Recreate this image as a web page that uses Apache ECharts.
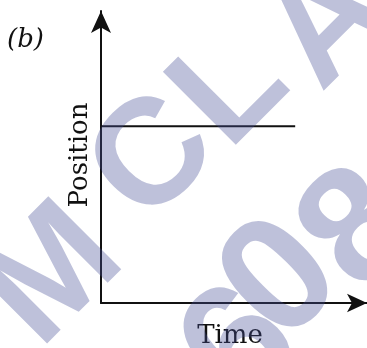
<!DOCTYPE html>
<html>
<head>
<meta charset="utf-8">
<script src="https://cdn.jsdelivr.net/npm/echarts@6/dist/echarts.min.js"></script>
<style>
  html, body { margin: 0; padding: 0; background: #fff; }
  #chart { width: 367px; height: 348px; }
</style>
</head>
<body>
<div id="chart"></div>
<script>
// position stays constant over time
var times = [0, 7.3];
var positions = [6.05, 6.05];
var axisMax = [10, 10];
var panelLabel = '(b)';
var watermark = [
  ['M', 55, 277, 150], ['C', 155, 160, 150], ['L', 232, 90, 150], ['A', 330, 26, 150],
  ['6', 243, 350, 165], ['0', 283, 282, 165], ['8', 362, 232, 165]
];

var chart = echarts.init(document.getElementById('chart'), null, { renderer: 'canvas' });

var ink = '#111';
var serif = '"DejaVu Serif", serif';

var option = {
  animation: false,
  backgroundColor: '#fff',
  grid: { left: 101, right: 0, top: 11, bottom: 45, outerBoundsMode: 'none' },
  xAxis: {
    type: 'value',
    min: 0,
    max: axisMax[0],
    name: 'Time',
    nameLocation: 'middle',
    nameGap: 20,
    nameTextStyle: { color: ink, fontFamily: serif, fontSize: 26, padding: [0, 8, 0, 0] },
    axisLine: { show: true, lineStyle: { color: ink, width: 2 }, symbol: ['none', 'arrow'], symbolSize: [14, 20] },
    axisTick: { show: false },
    axisLabel: { show: false },
    splitLine: { show: false }
  },
  yAxis: {
    type: 'value',
    min: 0,
    max: axisMax[1],
    name: 'Position',
    nameLocation: 'middle',
    nameGap: 8,
    nameTextStyle: { color: ink, fontFamily: serif, fontSize: 26, padding: [0, 0, 0, 4] },
    axisLine: { show: true, lineStyle: { color: ink, width: 2 }, symbol: ['none', 'arrow'], symbolSize: [15, 22] },
    axisTick: { show: false },
    axisLabel: { show: false },
    splitLine: { show: false }
  },
  series: [{
    type: 'line',
    data: times.map(function (t, i) { return [t, positions[i]]; }),
    symbol: 'none',
    lineStyle: { color: ink, width: 2 }
  }],
  graphic: [{
    type: 'text',
    left: 7,
    top: 27,
    style: { text: panelLabel, fill: ink, font: 'italic 26px "DejaVu Serif", serif' }
  }].concat(watermark.map(function (w) {
    return {
      type: 'text',
      x: w[1],
      y: w[2],
      rotation: Math.PI / 4,
      z: 100,
      silent: true,
      style: {
        text: w[0],
        fill: 'rgba(70,78,150,0.35)',
        font: 'bold ' + w[3] + 'px "Liberation Sans", Arial, sans-serif',
        align: 'center',
        verticalAlign: 'middle'
      }
    };
  }))
};

chart.setOption(option);
</script>
</body>
</html>
